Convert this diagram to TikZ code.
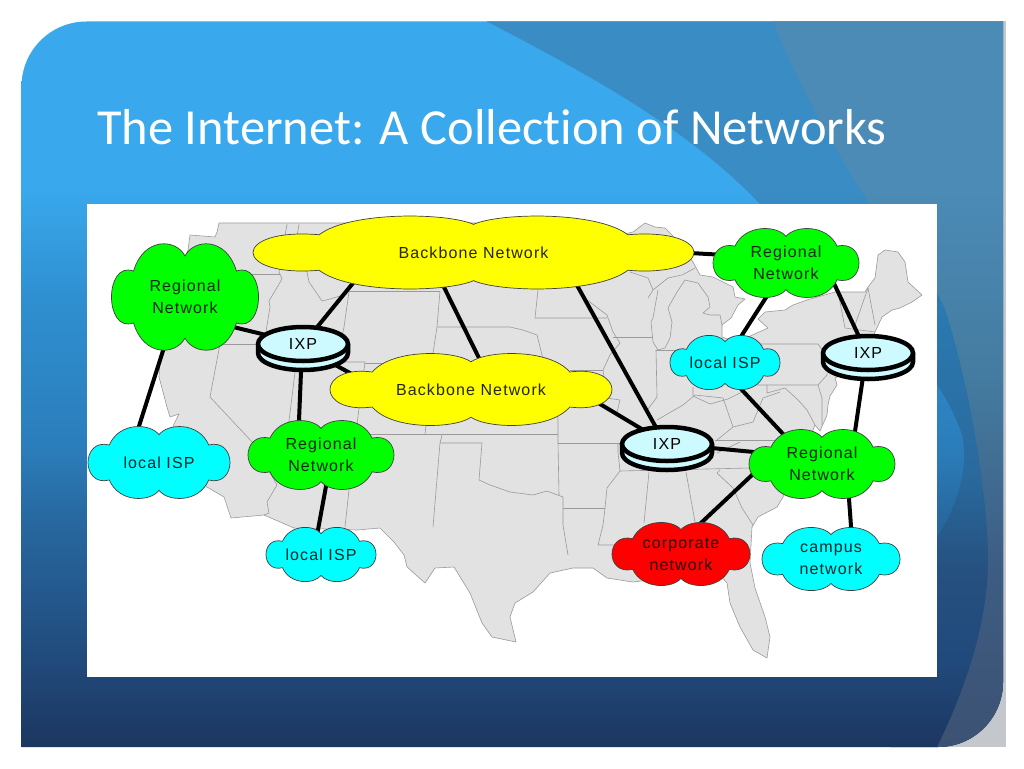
\documentclass[tikz,border=0pt]{standalone}
\usepackage{fontspec}
\setmainfont{Liberation Sans}
\newfontfamily\cloudfont[LetterSpace=7]{Liberation Sans}
\newfontfamily\titlefont[Ligatures=NoCommon]{Carlito}

\definecolor{baseA}{HTML}{1C3660}
\definecolor{baseB}{HTML}{214A7C}
\definecolor{baseC}{HTML}{27689F}
\definecolor{baseD}{HTML}{2B7DBA}
\definecolor{baseE}{HTML}{2F8FD0}
\definecolor{baseF}{HTML}{39A8EC}
\definecolor{midA}{HTML}{25507F}
\definecolor{midB}{HTML}{2A6A9E}
\definecolor{midC}{HTML}{2A7AB2}
\definecolor{midD}{HTML}{3A8CC5}
\definecolor{edgeA}{HTML}{3C5273}
\definecolor{edgeB}{HTML}{3D5C82}
\definecolor{edgeC}{HTML}{447A9F}
\definecolor{edgeD}{HTML}{4B8BB6}
\definecolor{stripe}{HTML}{C4C8CC}
\definecolor{landfill}{HTML}{E2E2E2}
\definecolor{stateline}{HTML}{9A9A9A}
\definecolor{diskfill}{HTML}{CCFAFF}
\definecolor{netgreen}{HTML}{00FF00}
\definecolor{netcyan}{HTML}{00FFFF}
\definecolor{netyellow}{HTML}{FFFF00}
\definecolor{netred}{HTML}{FF0000}

\pgfdeclareverticalshading{slidebase}{100bp}{color(0bp)=(baseA); color(25bp)=(baseA); color(31bp)=(baseB); color(40.6bp)=(baseC); color(45.5bp)=(baseD); color(55.8bp)=(baseE); color(63.4bp)=(baseF); color(100bp)=(baseF)}
\pgfdeclareverticalshading{slidemid}{100bp}{color(0bp)=(baseA); color(25bp)=(baseA); color(31bp)=(baseB); color(37bp)=(midA); color(44bp)=(midB); color(55.8bp)=(midC); color(63.4bp)=(midD); color(100bp)=(midD)}
\pgfdeclareverticalshading{slideedge}{100bp}{color(0bp)=(edgeA); color(25bp)=(edgeA); color(37bp)=(edgeB); color(50bp)=(edgeC); color(63.4bp)=(edgeD); color(100bp)=(edgeD)}

\pgfdeclarelayer{slide}
\pgfdeclarelayer{links}
\pgfsetlayers{slide,links,main}

\tikzset{
    cloudedge/.style={draw=black!75, line width=0.7pt},
    cloudtext/.style={align=center, inner sep=0pt, font=\cloudfont\fontsize{16}{22}\selectfont},
    netlink/.style={draw=black, line width=4pt},
    diskedge/.style={draw=black, line width=4.5pt, fill=diskfill, line join=round},
    disktop/.style={diskedge, ellipse, minimum width=90pt, minimum height=34pt, inner sep=0pt, font=\cloudfont\fontsize{16}{18}\selectfont},
    land/.style={fill=landfill, draw=stateline, line width=0.6pt, line join=round},
    border/.style={draw=stateline, line width=0.6pt, line join=round}
}

% name, x, y, half width, half height, colour, text
\newcommand{\netcloud}[7]{
    \draw[cloudedge, fill=#6, shift={(#2,#3)}, xscale=#4, yscale=#5]
        (0,-.76) .. controls (.12,-1.08) and (.56,-1.12) .. (.7,-.48)
        .. controls (1.1,-.68) and (1.1,.68) .. (.7,.48)
        .. controls (.56,1.12) and (.12,1.08) .. (0,.76)
        .. controls (-.12,1.08) and (-.56,1.12) .. (-.7,.48)
        .. controls (-1.1,.68) and (-1.1,-.68) .. (-.7,-.48)
        .. controls (-.56,-1.12) and (-.12,-1.08) .. (0,-.76) -- cycle;
    \node[cloudtext, text=#6!15!black] (#1) at (#2,#3) {#7};
}

% name, x, y of the upper face
\newcommand{\ixpdisk}[3]{
    \draw[diskedge, shift={(#2,#3)}] (-45,0) -- (-45,9) arc[start angle=180, end angle=0, x radius=45, y radius=17] -- (45,0) -- cycle;
    \node[disktop] (#1) at (#2,#3) {\raisebox{-4pt}{IXP}};
}

\usetikzlibrary{shapes.geometric}

\begin{document}
\begin{tikzpicture}[x=1pt, y=-1pt]
    \useasboundingbox (0,0) rectangle (1024,768);

    \begin{pgfonlayer}{slide}
        % slide background
        \fill[white] (0,0) rectangle (1024,768);
        \fill[stripe] (1000,21.5) rectangle (1006,747);
        \fill[stripe] (930,675) rectangle (1006,747);
        \begin{scope}
            \clip (21.5,86.5) arc[start angle=180, end angle=270, radius=65] -- (1003,21.5) -- (1003,682)
                arc[start angle=0, end angle=90, radius=65] -- (21.5,747) -- cycle;
            \shade[shading=slidebase] (21,21) rectangle (1004,747);
            \begin{scope}
                \clip (486,21) .. controls (590,75) and (690,130) .. (760,204)
                    .. controls (830,275) and (935,350) .. (962,435)
                    .. controls (970,470) and (955,510) .. (937,537)
                    .. controls (925,560) and (900,620) .. (890,747)
                    -- (1010,747) -- (1010,21) -- cycle;
                \shade[shading=slidemid] (21,21) rectangle (1004,747);
            \end{scope}
            \begin{scope}
                \clip (773,21) .. controls (800,90) and (835,150) .. (870,204)
                    .. controls (905,250) and (935,285) .. (945,309)
                    .. controls (965,370) and (985,470) .. (988,551)
                    .. controls (990,620) and (965,690) .. (937,747)
                    -- (1010,747) -- (1010,21) -- cycle;
                \shade[shading=slideedge] (21,21) rectangle (1004,747);
            \end{scope}
        \end{scope}
        \fill[white] (87,204) rectangle (937,677);

        % map outline
        \draw[land] (219,223) -- (520,223) -- (600,240) -- (633,232) -- (645,223) -- (655,227) -- (665,228) -- (672,235)
            -- (680,245) -- (693,262) -- (700,275) -- (713,277) -- (733,287) -- (735,297) -- (745,299)
            -- (738,305) -- (731,318) -- (722,325) -- (722,337) -- (735,342) -- (748,337) -- (768,328)
            -- (758,319) -- (765,312) -- (785,310) -- (793,305) -- (807,300) -- (835,292) -- (865,292)
            -- (868,287) -- (875,278) -- (878,255) -- (885,250) -- (898,252) -- (905,262) -- (908,282)
            -- (922,295) -- (912,302) -- (900,308) -- (892,310) -- (882,317) -- (875,332) -- (870,345)
            -- (850,370) -- (835,378) -- (837,385) -- (830,396) -- (828,405) -- (827,415) -- (820,431)
            -- (815,425) -- (805,450) -- (783,497) -- (777,507) -- (758,517) -- (752,527) -- (750,563)
            -- (755,588) -- (765,617) -- (770,637) -- (767,658) -- (753,650) -- (740,627) -- (730,603)
            -- (727,583) -- (720,575) -- (690,575) -- (633,582) -- (607,578) -- (593,568) -- (573,568)
            -- (550,573) -- (533,592) -- (515,603) -- (510,617) -- (516,642) -- (492,637) -- (482,623)
            -- (470,593) -- (454,567) -- (435,568) -- (425,583) -- (407,567) -- (404,555) -- (394,542)
            -- (380,528) -- (357,530) -- (294,528) -- (264,515) -- (231,518) -- (224,497) -- (207,487)
            -- (190,470) -- (173,426) -- (179,414) -- (170,417) -- (167,407) -- (159,377) -- (160,360)
            -- (170,300) -- (188,250) -- (190,235) -- (215,237) -- (217,232) -- cycle;

        % state lines, west
        \draw[border] (250,274) -- (280,274);
        \draw[border] (287,224) -- (279,272) -- (282,279) -- (269,301) -- (270,307) -- (264,344);
        \draw[border] (220,344) -- (330,344);
        \draw[border] (220,344) -- (210,397) -- (254,444) -- (277,485) -- (267,502) -- (269,513) -- (264,515);
        \draw[border] (299,224) -- (295,250) -- (307,272) -- (309,282) -- (322,301) -- (330,299) -- (347,294);
        \draw[border] (349,291) -- (440,291);
        \draw[border] (349,292) -- (344,327) -- (337,362) -- (365,362) -- (357,424) -- (357,434);
        \draw[border] (295,372) -- (289,421) -- (284,434);
        \draw[border] (284,434) -- (558,434);
        \draw[border] (349,434) -- (349,490) -- (345,527);
        \draw[border] (365,363) -- (433,363);
        \draw[border] (440,291) -- (437,327) -- (433,353) -- (429,400) -- (425,434);
        \draw[border] (442,435) -- (440,443) -- (433,527);
        % state lines, middle
        \draw[border] (440,443) -- (482,443) -- (479,480) -- (490,485) -- (510,492) -- (533,495) -- (547,491) -- (563,497) -- (563,525) -- (568,555);
        \draw[border] (563,508) -- (605,508);
        \draw[border] (558,418) -- (558,443) -- (559,495);
        \draw[border] (558,443) -- (620,443);
        \draw[border] (437,327) -- (510,327) -- (523,330) -- (537,335) -- (542,355) -- (558,418);
        \draw[border] (538,290) -- (535,318) -- (607,318);
        \draw[border] (587,300) -- (607,315) -- (613,332) -- (620,343) -- (610,355) -- (603,370) -- (607,398) -- (620,400) -- (617,412);
        \draw[border] (570,370) -- (603,370);
        \draw[border] (613,337) -- (653,337);
        \draw[border] (656,350) -- (657,397) -- (648,409);
        \draw[border] (656,350) -- (730,350);
        % state lines, great lakes
        \draw[border] (630,272) -- (648,278) -- (653,290) -- (648,298);
        \draw[border] (653,290) -- (668,278) -- (682,275) -- (695,268);
        \draw[border] (658,290) -- (653,318) -- (651,322) -- (653,342) -- (658,350) -- (665,348) -- (670,338) -- (672,322) -- (668,308) -- (677,292) -- (685,280) -- (698,283) -- (708,297) -- (710,307) -- (703,313) -- (710,315) -- (720,315) -- (722,325);
        % state lines, east
        \draw[border] (752,344) -- (818,344) -- (828,358) -- (827,375) -- (818,385) -- (755,385);
        \draw[border] (767,385) -- (767,393) -- (785,388) -- (798,400) -- (807,410) -- (815,425);
        \draw[border] (818,385) -- (822,398) -- (822,425);
        \draw[border] (838,292) -- (845,328) -- (875,332);
        \draw[border] (868,288) -- (855,325);
        \draw[border] (868,288) -- (875,325);
        \draw[border] (693,387) -- (693,396) -- (710,404) -- (728,399) -- (742,392);
        \draw[border] (657,420) -- (683,405) -- (695,395) -- (723,398) -- (733,427) -- (717,440);
        \draw[border] (733,427) -- (753,422) -- (763,398) -- (780,392);
        \draw[border] (715,440) -- (800,440);
        \draw[border] (717,453) -- (740,442);
        \draw[border] (620,471) -- (750,468);
        \draw[border] (618,443) -- (618,452) -- (620,471) -- (607,488) -- (605,508) -- (603,525) -- (598,545) -- (627,545);
        \draw[border] (649,472) -- (644,523);
        \draw[border] (686,472) -- (695,522);
        \draw[border] (720,470) -- (717,473) -- (733,488) -- (742,508) -- (753,525);
    \end{pgfonlayer}

    \node[anchor=base west, inner sep=0pt, text=white, font=\titlefont\fontsize{50.5}{60}\selectfont] (title) at (97,144) {The Internet: A Collection of Networks};

    % clouds
    \netcloud{regWest}{185}{297}{73.5}{54}{netgreen}{Regional\\Network}
    \netcloud{backTop}{473.5}{252.5}{220.5}{37}{netyellow}{Backbone Network}
    \netcloud{backMid}{471}{389.5}{141}{36.5}{netyellow}{Backbone Network}
    \netcloud{regNorth}{786}{263}{73}{35}{netgreen}{Regional\\Network}
    \netcloud{ispNorth}{725}{362.5}{55}{27.5}{netcyan}{local ISP}
    \netcloud{ispWest}{159}{462.5}{71}{36.5}{netcyan}{local ISP}
    \netcloud{regMid}{321}{455}{73}{35}{netgreen}{Regional\\Network}
    \netcloud{ispSouth}{321}{554.5}{55}{27.5}{netcyan}{local ISP}
    \netcloud{regEast}{822}{464}{73}{35}{netgreen}{Regional\\Network}
    \netcloud{corpNet}{681}{554}{69}{32}{netred}{corporate\\network}
    \netcloud{campusNet}{831}{559}{69}{32}{netcyan}{campus\\network}

    % exchange points
    \ixpdisk{ixpWest}{303}{344}
    \ixpdisk{ixpEast}{868}{353}
    \ixpdisk{ixpMid}{667}{444}

    \begin{pgfonlayer}{links}
        \draw[netlink] ([shift={(40,28)}]regWest.center) -- (ixpWest.center);
        \draw[netlink] ([shift={(-17,38)}]regWest.center) -- ([shift={(-26,-17.5)}]ispWest.center);
        \draw[netlink] ([shift={(-111.5,19.5)}]backTop.center) -- ([shift={(2,-2)}]ixpWest.center);
        \draw[netlink] ([shift={(-37,19.5)}]backTop.center) -- ([shift={(18.6,-10)}]backMid.center);
        \draw[netlink] ([shift={(17,12.6)}]ixpWest.center) -- ([shift={(-101,-5.5)}]backMid.center);
        \draw[netlink] ([shift={(-1.3,11)}]ixpWest.center) -- ([shift={(-22.8,-15)}]regMid.center);
        \draw[netlink] ([shift={(8,15)}]regMid.center) -- ([shift={(-5.8,-9.5)}]ispSouth.center);
        \draw[netlink] ([shift={(95,17.5)}]backTop.center) -- ([shift={(-4,-4)}]ixpMid.center);
        \draw[netlink] ([shift={(114,5.5)}]backMid.center) -- ([shift={(-12,-7)}]ixpMid.center);
        \draw[netlink] ([shift={(216.5,.5)}]backTop.center) -- ([shift={(-61,-8)}]regNorth.center);
        \draw[netlink] ([shift={(-12,22)}]regNorth.center) -- ([shift={(10.6,-17.5)}]ispNorth.center);
        \draw[netlink] ([shift={(44,12)}]regNorth.center) -- ([shift={(-5,-8)}]ixpEast.center);
        \draw[netlink] ([shift={(-4,17)}]ixpEast.center) -- ([shift={(31,-19)}]regEast.center);
        \draw[netlink] ([shift={(3,12.5)}]ispNorth.center) -- ([shift={(-24,-14)}]regEast.center);
        \draw[netlink] ([shift={(23,2)}]ixpMid.center) -- ([shift={(-52,-10.5)}]regEast.center);
        \draw[netlink] ([shift={(-57,-1.2)}]regEast.center) -- ([shift={(14,-25.4)}]corpNet.center);
        \draw[netlink] ([shift={(26,21)}]regEast.center) -- ([shift={(21,-19)}]campusNet.center);
    \end{pgfonlayer}
\end{tikzpicture}
\end{document}
